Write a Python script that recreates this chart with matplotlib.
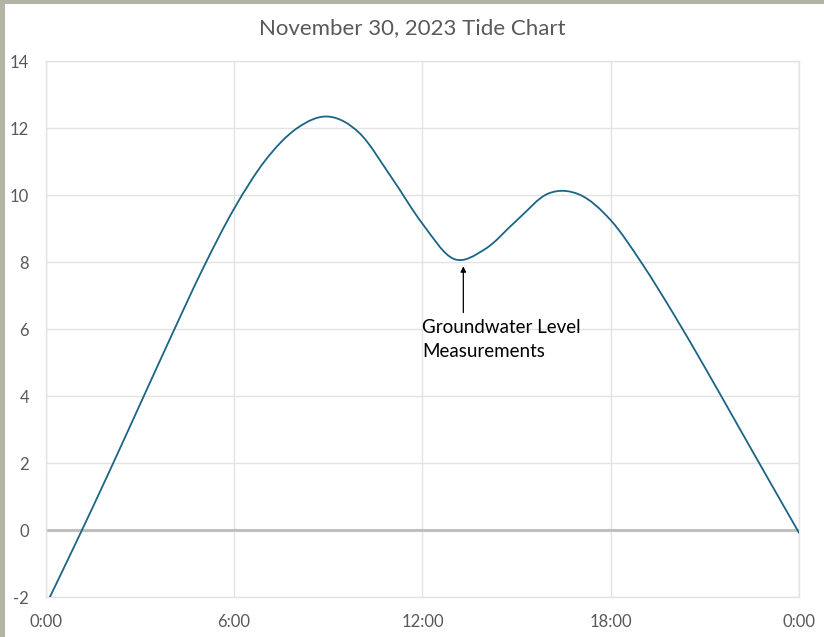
import numpy as np
import matplotlib
matplotlib.use("Agg")
import matplotlib.pyplot as plt
from matplotlib.path import Path
from matplotlib.patches import PathPatch, Rectangle

# hourly tide levels
hours = list(range(0, 25))
levels = [-2.25, -0.3, 1.7, 3.75, 5.8, 7.8, 9.6, 11.05, 12.0, 12.35,
          11.85, 10.55, 9.15, 8.1, 8.4, 9.25, 10.05, 10.02, 9.25, 7.95,
          6.45, 4.85, 3.2, 1.55, -0.09]

x_ticks = [0, 6, 12, 18, 24]
x_labels = ["0:00", "6:00", "12:00", "18:00", "0:00"]
y_ticks = list(range(-2, 15, 2))

title = "November 30, 2023 Tide Chart"
note = "Groundwater Level\nMeasurements"
note_at = (13.30, 8.0)

plt.rcParams['font.family'] = ['Lato', 'DejaVu Sans']
plt.rcParams['axes.unicode_minus'] = False

fig = plt.figure(figsize=(8.24, 6.37), dpi=100, facecolor='#b3b4a4')
fig.patches.append(Rectangle((5 / 824, 0), 1, 1 - 4 / 637,
                             transform=fig.transFigure, facecolor='white',
                             edgecolor='none', zorder=-5))
ax = fig.add_axes([45.7 / 824, 1 - 597.3 / 637, (799.3 - 45.7) / 824,
                   (597.3 - 61.3) / 637])
ax.set_zorder(2)
ax.set_facecolor('white')


def smooth_path(xs, ys):
    # Excel-like smoothed line: Catmull-Rom segments as cubic beziers
    pts = np.column_stack([xs, ys]).astype(float)
    verts = [pts[0]]
    codes = [Path.MOVETO]
    n = len(pts)
    for i in range(n - 1):
        p0 = pts[i - 1] if i > 0 else pts[i]
        p1 = pts[i]
        p2 = pts[i + 1]
        p3 = pts[i + 2] if i + 2 < n else pts[i + 1]
        c1 = p1 + (p2 - p0) / 6
        c2 = p2 - (p3 - p1) / 6
        verts += [c1, c2, p2]
        codes += [Path.CURVE4] * 3
    return Path(verts, codes)


ax.add_patch(PathPatch(smooth_path(hours, levels), facecolor='none',
                       edgecolor='#1a6585', lw=1.3, zorder=3))

ax.set_xlim(0, 24)
ax.set_ylim(-2, 14)
ax.set_xticks(x_ticks)
ax.set_xticklabels(x_labels)
ax.set_yticks(y_ticks)
ax.grid(True, color='#e3e3e3', lw=1.0, zorder=0)
ax.axhline(0, color='#bfbfbf', lw=2.2, zorder=2)
for s in ax.spines.values():
    s.set_color('#e3e3e3')
    s.set_linewidth(1.0)
ax.tick_params(length=0, labelsize=12, labelcolor='#595959')
ax.tick_params(axis='y', pad=12)
ax.tick_params(axis='x', pad=12)

fig.text(0.5, 1 - 28 / 637, title, ha='center', va='center',
         fontsize=16, color='#595959')

ax.annotate('', xy=(note_at[0], note_at[1] - 0.12),
            xytext=(note_at[0], 6.5),
            arrowprops=dict(arrowstyle='-|>', color='black', lw=0.9,
                            mutation_scale=8, shrinkA=0, shrinkB=0))
ax.text(12.0, 6.32, note, ha='left', va='top', fontsize=13.5,
        color='black', linespacing=1.55)

fig.savefig('out.png', dpi=100, facecolor=fig.get_facecolor())
